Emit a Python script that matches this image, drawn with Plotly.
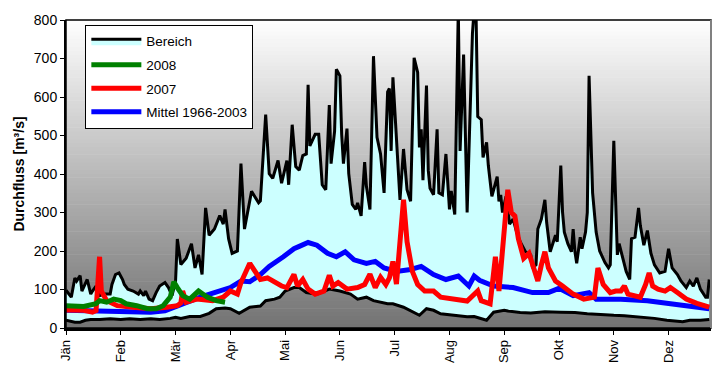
import plotly.graph_objects as go

# ---------------- data (day of year index, discharge m³/s) ----------------
month_ticks = [0, 31, 62, 93, 124, 155, 186, 217, 248, 279, 310, 341]
month_labels = ["Jän", "Feb", "Mär", "Apr", "Mai", "Jun", "Jul", "Aug", "Sep", "Okt", "Nov", "Dez"]

max_days = [0, 3, 5, 6, 8, 9, 12, 14, 15, 17, 19, 22, 25, 26, 28, 30, 32, 33, 35, 38, 41, 42, 44, 45, 47, 49,
            51, 53, 56, 58, 60, 62, 63, 65, 68, 71, 73, 75, 77, 79, 81, 84, 87, 89, 90, 92, 94, 97, 99, 101,
            105, 107, 109, 110, 113, 115, 117, 120, 122, 125, 126, 128, 130, 132, 134, 136, 137, 138, 141,
            143, 145, 147, 149, 150, 152, 153, 155, 156, 157, 159, 160, 162, 164, 165, 167, 169, 170, 172,
            174, 176, 178, 180, 182, 183, 184, 185, 189, 191, 193, 195, 197, 199, 200, 201, 202, 204, 205,
            206, 208, 210, 211, 213, 215, 217, 218, 220, 222, 223, 225, 227, 230, 231, 232, 233, 235, 236,
            238, 239, 241, 242, 244, 245, 246, 247, 249, 251, 253, 255, 257, 260, 263, 264, 266, 267, 269,
            271, 272, 274, 275, 277, 278, 280, 281, 282, 284, 286, 287, 288, 289, 291, 292, 294, 295, 296,
            298, 300, 302, 305, 307, 308, 310, 312, 313, 315, 317, 319, 320, 322, 324, 325, 327, 329, 331,
            333, 336, 339, 341, 343, 346, 348, 351, 353, 355, 357, 359, 362, 363, 364]
max_vals = [98, 80, 130, 122, 136, 96, 126, 88, 96, 109, 84, 88, 88, 113, 139, 143, 126, 113, 101, 96, 88, 96,
            84, 96, 75, 71, 92, 109, 118, 105, 84, 122, 231, 165, 181, 219, 156, 190, 139, 312, 241, 257, 292,
            270, 308, 232, 194, 200, 427, 257, 355, 338, 325, 330, 554, 401, 389, 435, 376, 435, 372, 528,
            419, 410, 448, 452, 632, 473, 503, 503, 372, 359, 579, 427, 511, 672, 655, 503, 427, 518, 401,
            321, 308, 325, 291, 431, 368, 308, 706, 495, 452, 351, 613, 622, 460, 651, 333, 465, 359, 329,
            702, 664, 469, 516, 384, 630, 410, 363, 346, 516, 351, 346, 452, 308, 356, 295, 830, 460, 710,
            300, 765, 830, 830, 549, 541, 443, 482, 422, 342, 359, 393, 329, 346, 300, 342, 270, 283, 249,
            224, 198, 190, 156, 164, 257, 283, 333, 274, 198, 211, 241, 224, 422, 300, 249, 219, 198, 257,
            198, 168, 236, 206, 249, 300, 655, 351, 249, 200, 170, 156, 164, 486, 190, 219, 181, 147, 126,
            232, 236, 312, 266, 215, 253, 194, 164, 143, 147, 206, 156, 139, 122, 105, 122, 109, 130, 101,
            80, 80, 126]

min_days = [0, 2, 5, 8, 11, 14, 19, 25, 31, 36, 42, 48, 53, 59, 62, 65, 70, 76, 81, 85, 90, 93, 98, 104, 110,
            113, 118, 121, 124, 129, 132, 136, 142, 149, 155, 161, 165, 170, 174, 182, 185, 191, 198, 200,
            204, 208, 212, 219, 227, 231, 238, 242, 248, 250, 257, 263, 271, 280, 288, 295, 302, 310, 316,
            325, 333, 340, 349, 353, 359, 364]
min_vals = [20, 18, 15, 15, 20, 22, 22, 24, 22, 24, 22, 24, 22, 25, 28, 25, 30, 30, 38, 50, 52, 50, 38, 54, 57,
            71, 75, 80, 96, 105, 105, 92, 88, 101, 96, 88, 75, 80, 71, 63, 63, 54, 37, 33, 50, 46, 37, 33,
            29, 30, 20, 41, 46, 44, 40, 39, 42, 41, 40, 37, 36, 33, 32, 29, 25, 20, 16, 20, 20, 22]

mean_days = [0, 19, 48, 56, 63, 70, 76, 84, 93, 99, 104, 110, 115, 123, 129, 132, 137, 142, 148, 153, 158, 163,
             170, 175, 180, 187, 195, 201, 208, 215, 222, 228, 231, 234, 242, 253, 264, 273, 279, 287, 296,
             300, 314, 329, 344, 355, 364]
mean_vals = [46, 43, 41, 45, 58, 68, 80, 92, 105, 122, 120, 139, 160, 185, 206, 212, 222, 215, 194, 185, 198,
             177, 168, 173, 156, 147, 152, 160, 139, 126, 135, 109, 135, 124, 109, 105, 92, 92, 103, 84, 92,
             75, 75, 71, 63, 58, 50]

y2007_days = [0, 10, 15, 17, 19, 20, 23, 29, 38, 48, 57, 63, 65, 66, 68, 74, 83, 89, 93, 97, 99, 104, 107, 110,
              114, 117, 122, 125, 129, 131, 134, 137, 141, 146, 149, 151, 154, 159, 165, 169, 172, 175, 178,
              181, 183, 185, 187, 191, 193, 196, 199, 203, 208, 212, 219, 227, 233, 235, 240, 243, 245, 248,
              250, 252, 254, 256, 259, 262, 265, 267, 269, 271, 273, 277, 281, 287, 293, 299, 301, 304, 308,
              311, 314, 316, 318, 321, 325, 328, 330, 332, 335, 339, 342, 346, 351, 357, 363, 364]
y2007_vals = [47, 46, 41, 45, 185, 96, 71, 58, 54, 50, 54, 58, 65, 96, 67, 75, 71, 80, 96, 88, 118, 168, 147,
              126, 130, 122, 109, 105, 139, 109, 126, 101, 88, 96, 137, 109, 118, 101, 105, 113, 140, 105, 132,
              113, 130, 173, 114, 333, 224, 147, 113, 96, 96, 80, 75, 70, 96, 71, 63, 185, 96, 250, 359, 300,
              291, 232, 181, 194, 156, 122, 164, 198, 156, 122, 109, 88, 75, 80, 156, 113, 92, 96, 96, 109, 88,
              84, 80, 113, 143, 109, 101, 96, 105, 92, 75, 64, 58, 54]

y2008_days = [0, 10, 17, 19, 23, 27, 31, 34, 40, 46, 51, 55, 59, 61, 63, 66, 70, 75, 80, 85, 90]
y2008_vals = [58, 56, 63, 71, 67, 75, 71, 63, 58, 50, 50, 58, 80, 120, 105, 84, 75, 96, 80, 71, 67]

FONT = "Liberation Sans, Arial, sans-serif"

fig = go.Figure()

# lower envelope (no fill, background shows beneath)
fig.add_trace(go.Scatter(x=min_days, y=min_vals, mode="lines",
                         line=dict(color="black", width=3), showlegend=False, hoverinfo="skip"))
# upper envelope filled down to the lower envelope
fig.add_trace(go.Scatter(x=max_days, y=max_vals, mode="lines", name="Bereich",
                         fill="tonexty", fillcolor="#CCFFFF",
                         line=dict(color="black", width=3), legendrank=1, legendgroup="a"))
fig.add_trace(go.Scatter(x=mean_days, y=mean_vals, mode="lines", name="Mittel 1966-2003",
                         line=dict(color="#0000FF", width=5), legendrank=4, legendgroup="d"))
fig.add_trace(go.Scatter(x=y2007_days, y=y2007_vals, mode="lines", name="2007",
                         line=dict(color="#FF0000", width=5), legendrank=3, legendgroup="c"))
fig.add_trace(go.Scatter(x=y2008_days, y=y2008_vals, mode="lines", name="2008",
                         line=dict(color="#008000", width=5), legendrank=2, legendgroup="b"))

# vertical grey gradient background of the plot area
shapes = []
n = 80
top, bot = 255, 0x73
for i in range(n):
    f0 = i / n
    f1 = (i + 1) / n
    fm = (f0 + f1) / 2
    c = int(round(bot + (top - bot) * fm))
    shapes.append(dict(type="rect", xref="paper", yref="paper", x0=0, x1=1, y0=f0, y1=f1 + 0.002,
                       fillcolor=f"rgb({c},{c},{c})", line=dict(width=0), layer="below"))
shapes.append(dict(type="rect", xref="paper", yref="paper", x0=0, x1=1, y0=0, y1=1,
                   line=dict(color="black", width=1.5), layer="above"))
shapes.append(dict(type="line", xref="paper", yref="paper", x0=1, x1=1, y0=0, y1=1,
                   line=dict(color="#808080", width=2), layer="above"))

fig.update_layout(
    width=724, height=380,
    margin=dict(l=66, r=13, t=13, b=52),
    paper_bgcolor="white", plot_bgcolor="white",
    font=dict(family=FONT, size=12, color="black"),
    shapes=shapes,
    showlegend=True,
    legend=dict(x=0.03, y=0.984, xanchor="left", yanchor="top",
                bgcolor="white", bordercolor="black", borderwidth=1,
                font=dict(family=FONT, size=13.5, color="black"),
                itemwidth=50, traceorder="grouped", tracegroupgap=3),
    xaxis=dict(range=[0, 365], tickmode="array", tickvals=month_ticks, ticktext=month_labels,
               tickangle=-90, ticks="outside", ticklen=4, tickcolor="black",
               showline=True, linecolor="black", linewidth=2.5, showgrid=False, zeroline=False,
               tickfont=dict(family=FONT, size=13, color="black")),
    yaxis=dict(range=[0, 800], dtick=100, ticks="outside", ticklen=4, tickcolor="black",
               showline=True, linecolor="black", linewidth=2, showgrid=False, zeroline=False,
               tickfont=dict(family=FONT, size=14, color="black"),
               title=dict(text="<b>Durchfluss [m³/s]</b>", standoff=6,
                          font=dict(family=FONT, size=14, color="black"))),
)

fig.write_html("out.html")
